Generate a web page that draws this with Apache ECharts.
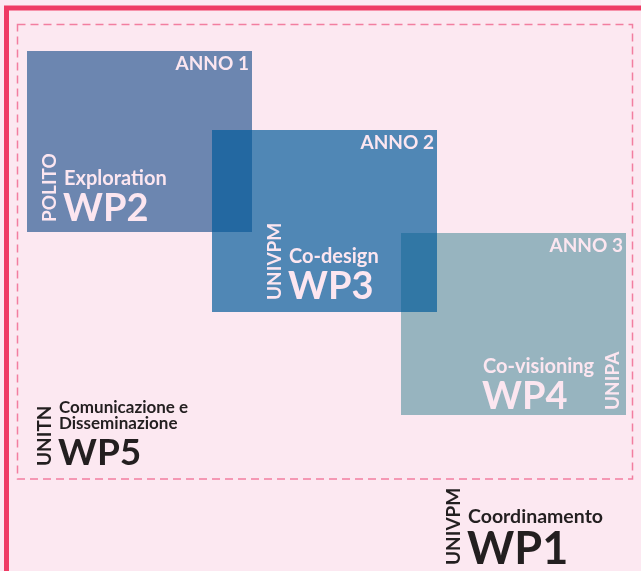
<!DOCTYPE html>
<html>
<head>
<meta charset="utf-8">
<title>WP</title>
<script src="https://cdn.jsdelivr.net/npm/echarts@6/dist/echarts.min.js"></script>
<style>
  html, body { margin: 0; padding: 0; background: #fce8f1; }
  #main { width: 641px; height: 571px; }
</style>
</head>
<body>
<div id="main"></div>
<script>
// riquadri degli anni (unita' = px del disegno originale)
const years = ['ANNO 1', 'ANNO 2', 'ANNO 3'];
const yearStart = [27, 212, 401];
const yearEnd = [252, 437, 626];
const yearTop = [51, 130, 233];
const yearBottom = [232, 312, 415];

// work package: codice, titolo, partner, punto d'ancoraggio (inizio / linea di base del codice)
const wpCodes = ['WP2', 'WP3', 'WP4', 'WP5', 'WP1'];
const wpTitles = ['Exploration', 'Co-design', 'Co-visioning', 'Comunicazione e\nDisseminazione', 'Coordinamento'];
const wpPartners = ['POLITO', 'UNIVPM', 'UNIPA', 'UNITN', 'UNIVPM'];
const wpX = [65, 290, 484, 60, 469];
const wpY = [222, 300, 410, 466, 565];

const LIGHT = '#fce6f0';
const DARK = '#231f20';
const FONT = 'Lato';

// stile dei riquadri
const yearColors = ['#2b5a93', '#035b99', '#6a9da8'];
// stile delle etichette
const wpStyle = {
  WP2: { code: 38, title: 20, color: LIGHT, partner: -15 },
  WP3: { code: 38, title: 20, color: LIGHT, partner: -15 },
  WP4: { code: 38, title: 20, color: LIGHT, partner: 129 },
  WP5: { code: 37, title: 17, color: DARK, partner: -15, lh: 16 },
  WP1: { code: 45, title: 19.5, color: DARK, partner: -15 }
};

function txt(text, x, y, size, color, align, extra) {
  return Object.assign({
    type: 'text',
    x: x,
    y: y,
    z2: 10,
    style: {
      text: text,
      x: 0,
      y: 0,
      fill: color,
      font: 'bold ' + size + 'px ' + FONT,
      align: align, textAlign: align,
      verticalAlign: 'middle', textVerticalAlign: 'middle'
    }
  }, extra || {});
}

function renderYear(params, api) {
  const i = params.dataIndex;
  const p0 = api.coord([api.value(0), api.value(2)]);
  const p1 = api.coord([api.value(1), api.value(3)]);
  return {
    type: 'group',
    children: [
      {
        type: 'rect',
        z2: i === 1 ? 3 : 1,
        shape: { x: p0[0], y: p0[1], width: p1[0] - p0[0], height: p1[1] - p0[1] },
        style: { fill: yearColors[i], opacity: 0.69 }
      },
      txt(years[i], p1[0] - 3, p0[1] + 13, 19, LIGHT, 'right')
    ]
  };
}

function renderWp(params, api) {
  const i = params.dataIndex;
  const s = wpStyle[wpCodes[i]];
  const p = api.coord([api.value(0), api.value(1)]);
  const capTop = p[1] - 0.72 * s.code;
  const lines = wpTitles[i].split('\n').length;
  const lh = s.lh || s.title;
  const titleY = capTop - 16 - (lines - 1) * lh / 2;
  const title = txt(wpTitles[i], p[0] - 1, titleY, s.title, s.color, 'left');
  title.style.lineHeight = lh;
  return {
    type: 'group',
    children: [
      txt(wpCodes[i], p[0] - 2, p[1] - 0.34 * s.code, s.code, s.color, 'left'),
      title,
      txt(wpPartners[i], p[0] + s.partner, p[1], 19, s.color, 'left', { rotation: Math.PI / 2 })
    ]
  };
}

// cornice: bordo pieno (solo lati sinistro e superiore) e bordo tratteggiato
const frames = [
  { box: [6.5, 8, 760, 760], style: { fill: 'none', stroke: '#ef3a64', lineWidth: 5 } },
  { box: [17.5, 24.5, 632.5, 479], style: { fill: 'none', stroke: '#f27ea0', lineWidth: 1.5, lineDash: [8, 5] } }
];

function renderFrame(params, api) {
  const f = frames[params.dataIndex];
  const p0 = api.coord([f.box[0], f.box[1]]);
  const p1 = api.coord([f.box[2], f.box[3]]);
  return {
    type: 'rect',
    shape: { x: p0[0], y: p0[1], width: p1[0] - p0[0], height: p1[1] - p0[1] },
    style: f.style
  };
}

const chart = echarts.init(document.getElementById('main'), null, { renderer: 'canvas' });
chart.setOption({
  backgroundColor: '#fce8f1',
  animation: false,
  grid: { left: 0, right: 0, top: 0, bottom: 0 },
  xAxis: { type: 'value', min: 0, max: 641, show: false },
  yAxis: { type: 'value', min: 0, max: 571, inverse: true, show: false },
  series: [
    {
      type: 'custom',
      renderItem: renderFrame,
      data: frames.map(f => f.box),
      clip: false,
      silent: true
    },
    {
      type: 'custom',
      renderItem: renderYear,
      data: years.map((y, i) => [yearStart[i], yearEnd[i], yearTop[i], yearBottom[i]]),
      silent: true
    },
    {
      type: 'custom',
      renderItem: renderWp,
      data: wpCodes.map((c, i) => [wpX[i], wpY[i]]),
      silent: true
    }
  ]
});
</script>
</body>
</html>
